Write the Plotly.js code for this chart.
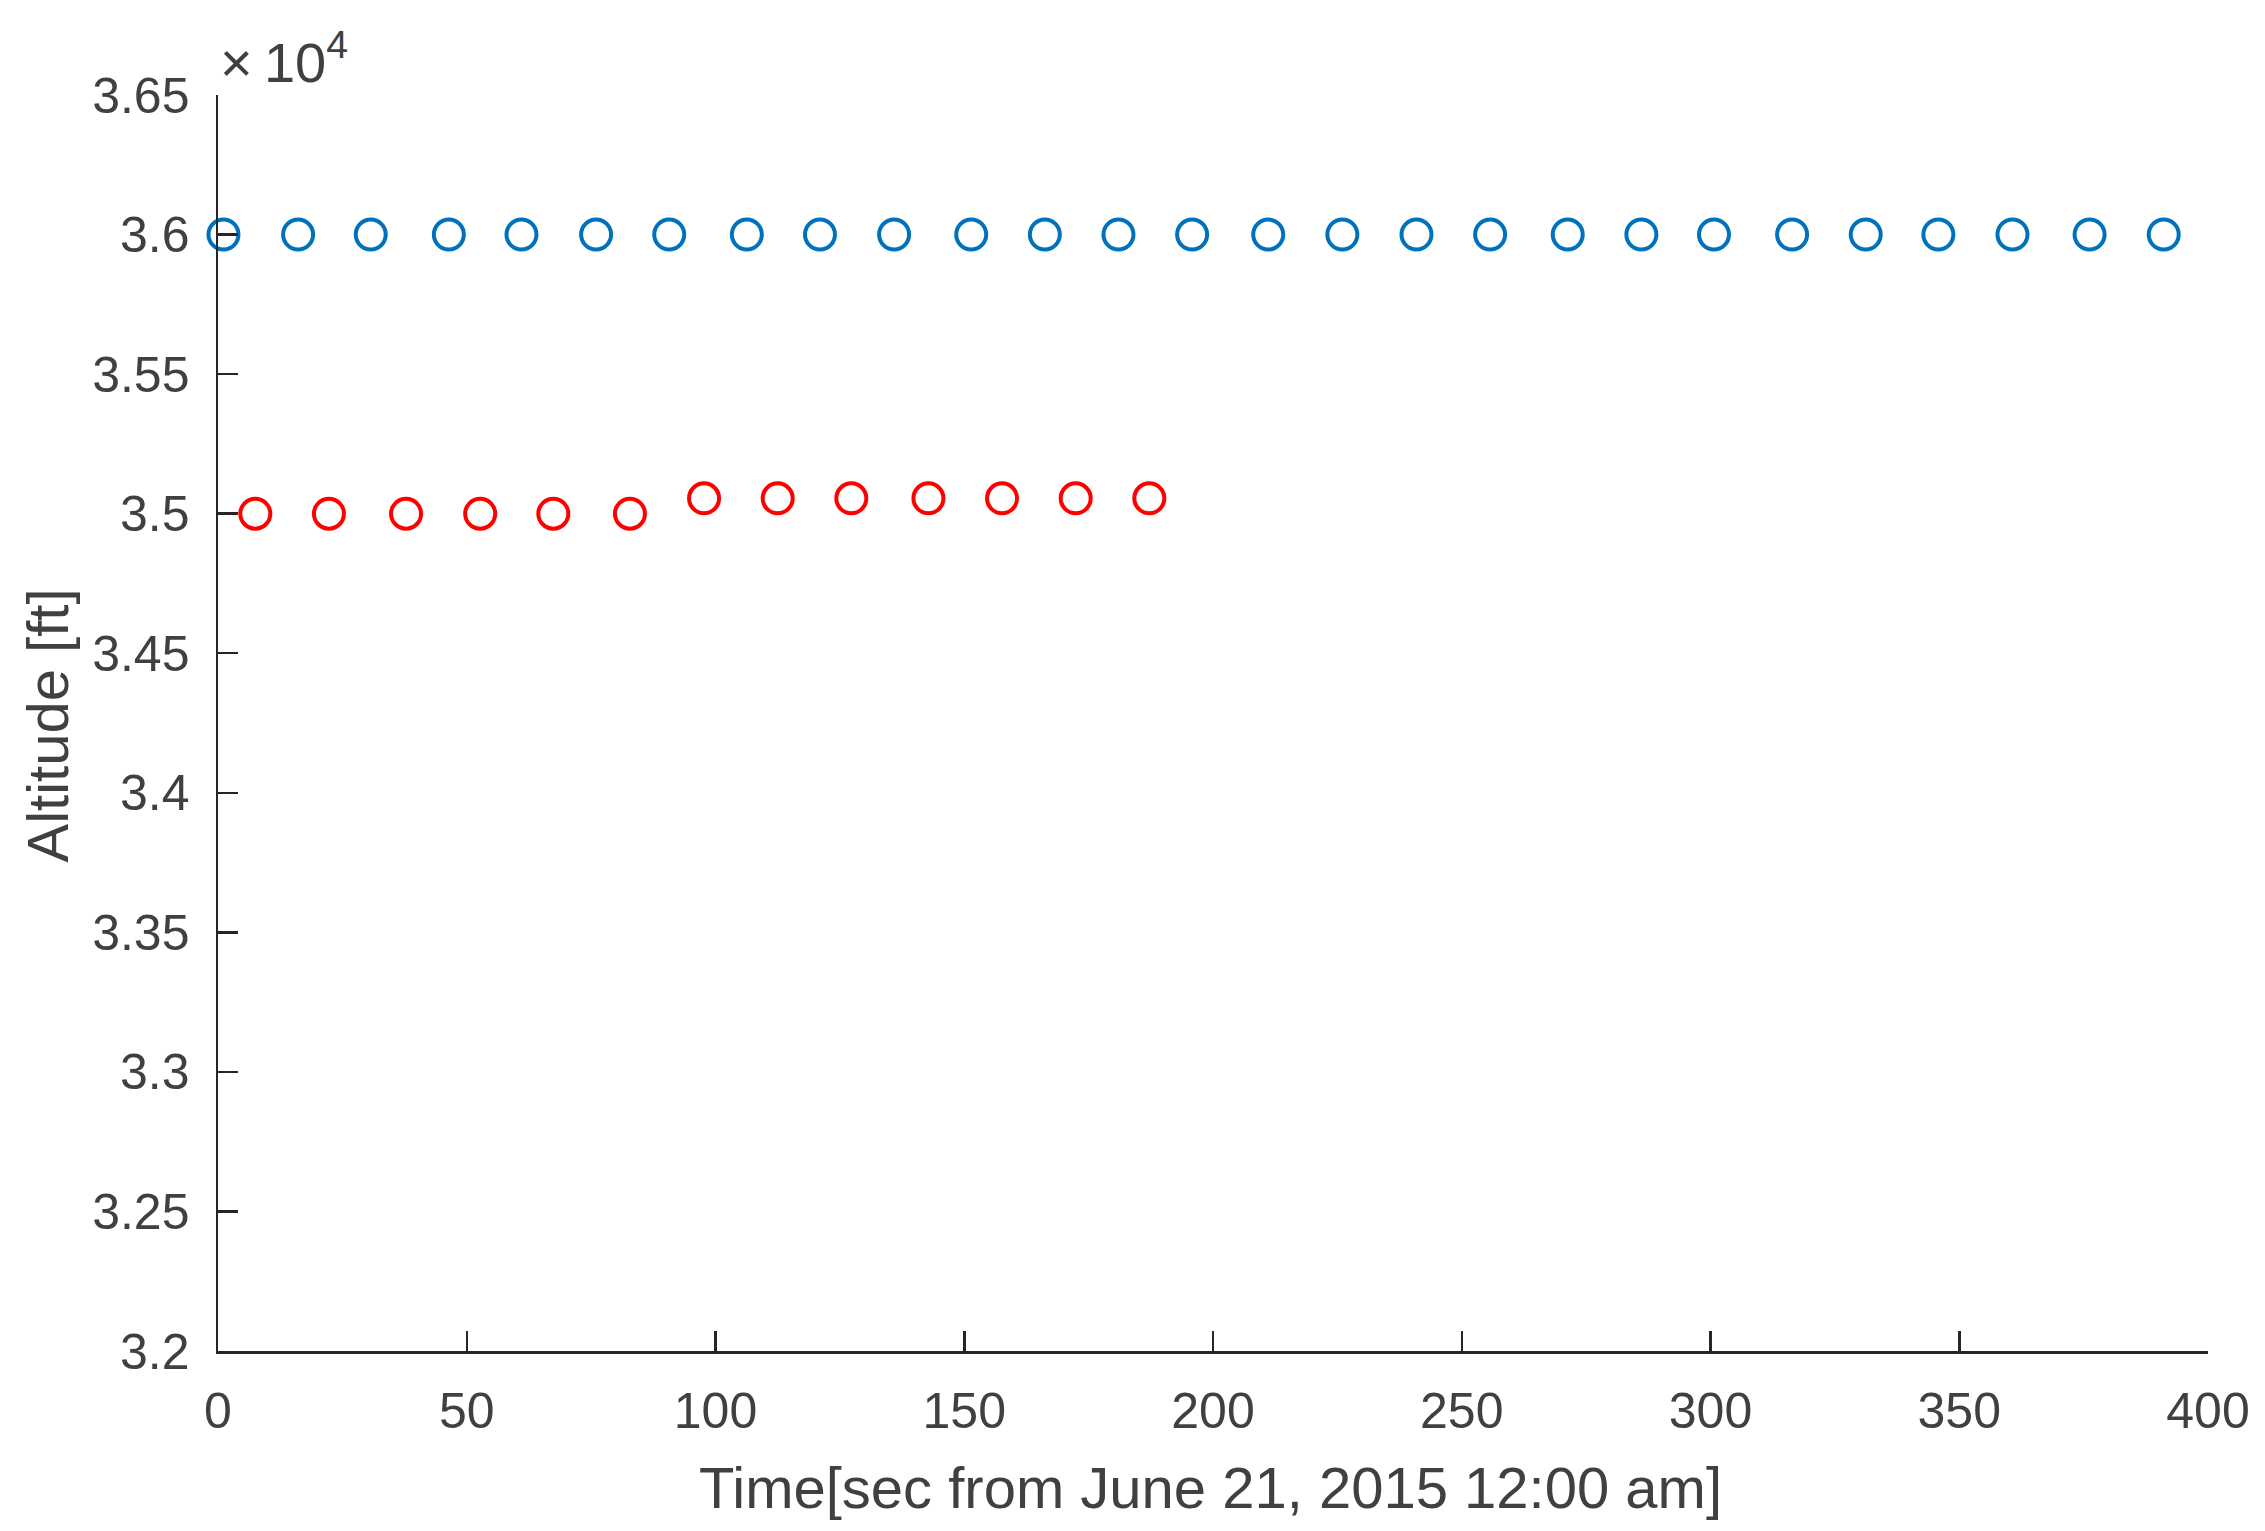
<!DOCTYPE html>
<html>
<head>
<meta charset="utf-8">
<script src="https://cdn.plot.ly/plotly-3.0.1.min.js"></script>
<style>html,body{margin:0;padding:0;background:#fff;}#chart{width:2265px;height:1531px;}</style>
</head>
<body>
<div id="chart"></div>
<script>
// Time [s] and altitude [ft]
var blueTime = [1.1, 16.1, 30.7, 46.4, 61.0, 76.0, 90.7, 106.3, 121.0, 135.9, 151.4, 166.2, 181.0, 195.8,
                211.1, 226.0, 240.9, 255.7, 271.3, 286.1, 300.7, 316.4, 331.2, 345.8, 360.7, 376.2, 391.1];
var blueAlt = [36000, 36000, 36000, 36000, 36000, 36000, 36000, 36000, 36000, 36000, 36000, 36000, 36000, 36000,
               36000, 36000, 36000, 36000, 36000, 36000, 36000, 36000, 36000, 36000, 36000, 36000, 36000];
var redTime = [7.5, 22.3, 37.8, 52.7, 67.4, 82.8, 97.7, 112.5, 127.3, 142.8, 157.6, 172.4, 187.2];
var redAlt = [35000, 35000, 35000, 35000, 35000, 35000, 35055, 35055, 35055, 35055, 35055, 35055, 35055];

var xTickVals = [0, 50, 100, 150, 200, 250, 300, 350, 400];
var xTickText = ["0", "50", "100", "150", "200", "250", "300", "350", "400"];
var yTickVals = [32000, 32500, 33000, 33500, 34000, 34500, 35000, 35500, 36000, 36500];
var yTickText = ["3.2", "3.25", "3.3", "3.35", "3.4", "3.45", "3.5", "3.55", "3.6", "3.65"];

var FONT = '"Liberation Sans", Arial, Helvetica, sans-serif';
var AXC = '#262626';
var TXC = '#404040';

var traces = [
  {x: blueTime, y: blueAlt, type: 'scatter', mode: 'markers', cliponaxis: false,
   marker: {symbol: 'circle-open', size: 30, color: '#0072BD', line: {width: 4, color: '#0072BD'}}},
  {x: redTime, y: redAlt, type: 'scatter', mode: 'markers', cliponaxis: false,
   marker: {symbol: 'circle-open', size: 30, color: '#FF0000', line: {width: 4, color: '#FF0000'}}}
];

var layout = {
  width: 2265, height: 1531,
  margin: {l: 218, r: 57, t: 95, b: 180, pad: 0},
  paper_bgcolor: '#ffffff', plot_bgcolor: '#ffffff',
  showlegend: false,
  font: {family: FONT, color: TXC, size: 49},
  xaxis: {
    range: [0, 400], tickmode: 'array', tickvals: xTickVals, ticktext: xTickText,
    showgrid: false, zeroline: false, showline: true, linecolor: AXC, linewidth: 2.5,
    ticks: 'inside', ticklen: 20, tickwidth: 2.5, tickcolor: AXC,
    tickfont: {family: FONT, size: 50, color: TXC}, ticklabelstandoff: 14
  },
  yaxis: {
    range: [32000, 36500], tickmode: 'array', tickvals: yTickVals, ticktext: yTickText,
    showgrid: false, zeroline: false, showline: true, linecolor: AXC, linewidth: 2.5,
    ticks: 'inside', ticklen: 20, tickwidth: 2.5, tickcolor: AXC,
    tickfont: {family: FONT, size: 50, color: TXC}, ticklabelstandoff: 16
  },
  annotations: [
    {text: 'Time[sec from June 21, 2015 12:00 am]', xref: 'paper', yref: 'paper',
     x: 0.4985, y: (1351 - 1487) / 1256, xanchor: 'center', yanchor: 'middle', showarrow: false,
     font: {family: FONT, size: 58, color: TXC}},
    {text: 'Altitude [ft]', xref: 'paper', yref: 'paper', textangle: -90,
     x: (48 - 218) / 1990, y: 0.498, xanchor: 'center', yanchor: 'middle', showarrow: false,
     font: {family: FONT, size: 58, color: TXC}},
    {text: '\u00d7\u200910<sup>4</sup>', xref: 'paper', yref: 'paper',
     x: (218 - 218) / 1990, y: (1351 - 96) / 1256, xanchor: 'left', yanchor: 'bottom', showarrow: false,
     font: {family: FONT, size: 56, color: TXC}}
  ]
};

Plotly.newPlot('chart', traces, layout, {displayModeBar: false, staticPlot: true});
</script>
</body>
</html>
